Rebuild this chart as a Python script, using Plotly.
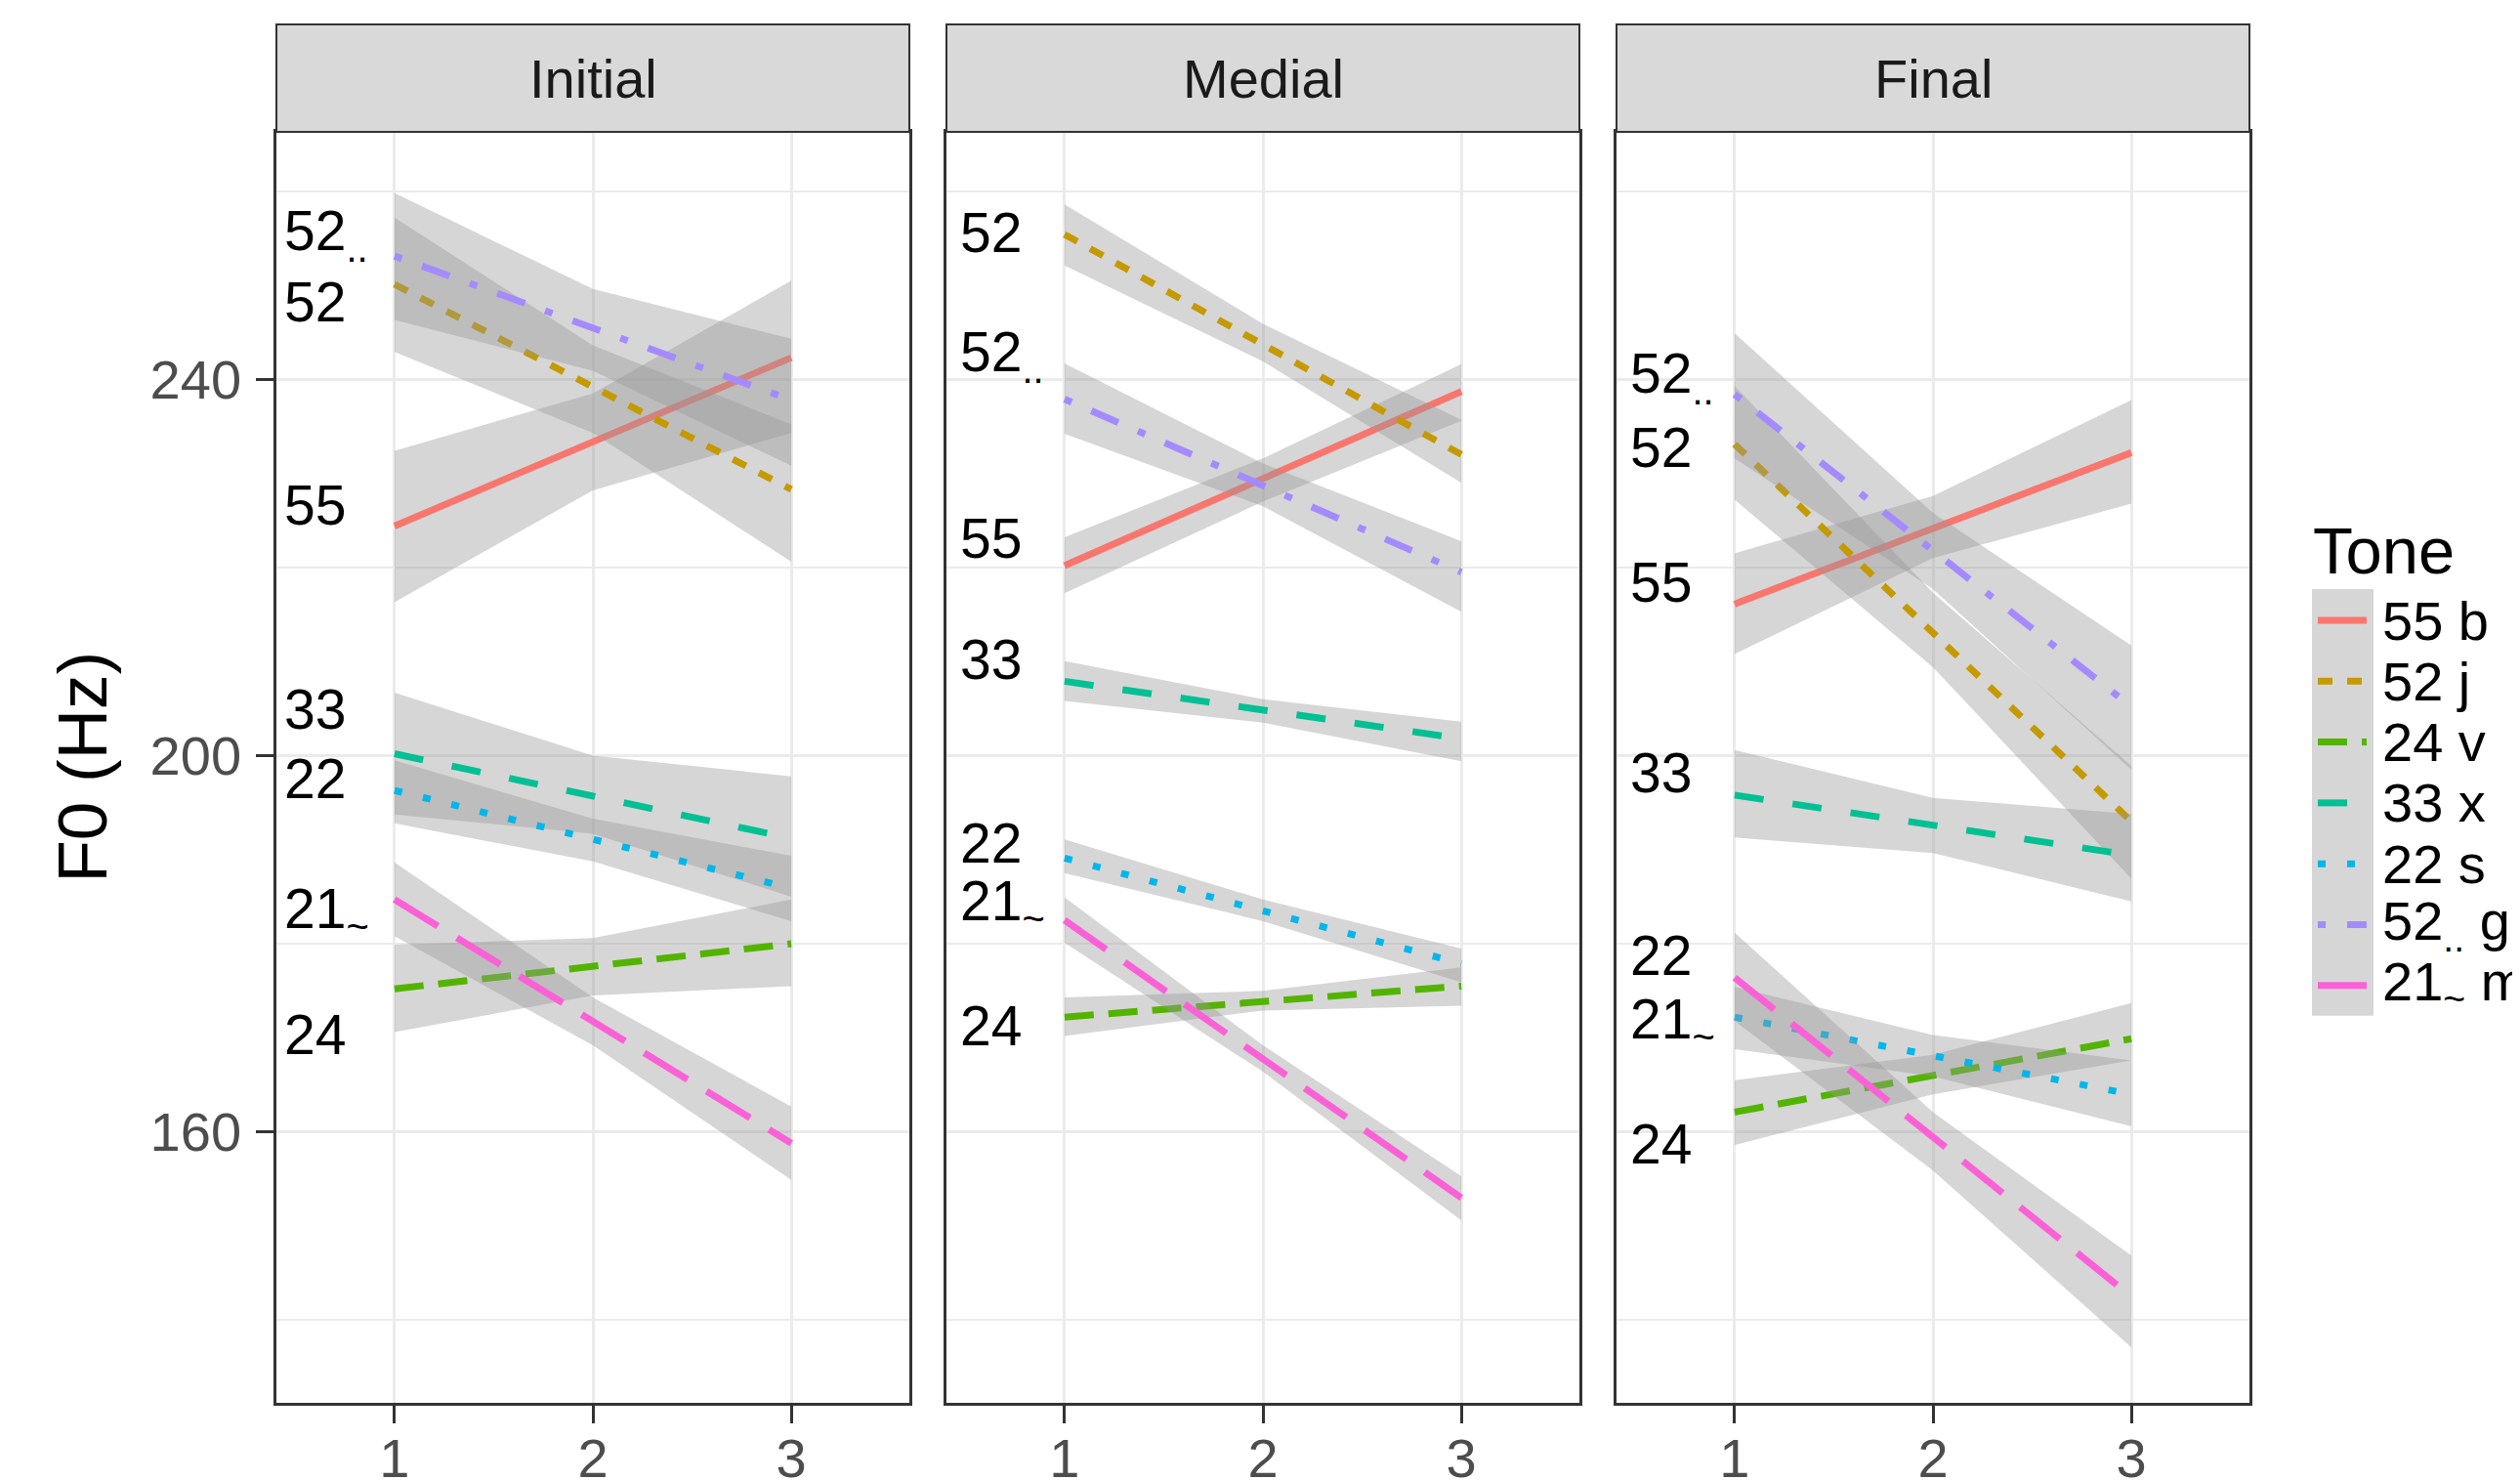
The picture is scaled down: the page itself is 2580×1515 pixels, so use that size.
import plotly.graph_objects as go

# ---------------- data ----------------
panels = ["Initial", "Medial", "Final"]
tone_codes = ["55", "52", "24", "33", "22", "52\u0324", "21\u0330"]
tone_letters = ["b", "j", "v", "x", "s", "g", "m"]
tone_colors = ["#F8766D", "#C49A00", "#53B400", "#00C094", "#00B6EB", "#A58AFF", "#FB61D7"]
tone_dashes = ["solid", "15px,15px", "30px,15px", "30px,30px", "8px,22px", "8px,22px,30px,22px", "52px,23px"]

positions = [1, 2, 3]

# fitted line at position 1 and 3, per tone (order of tone_codes)
initial_start = [224.4, 250.1, 175.2, 200.2, 196.3, 253.1, 184.7]
initial_end = [242.3, 228.3, 180.0, 191.2, 185.9, 237.8, 158.8]
initial_upper = [[232.4, 238.5, 250.5], [257.2, 243.6, 235.2], [179.9, 180.6, 184.7],
                 [206.7, 200.0, 197.8], [199.5, 193.3, 189.35], [259.8, 249.6, 244.3],
                 [188.65, 174.3, 162.7]]
initial_lower = [[216.3, 228.2, 234.3], [242.9, 234.3, 220.6], [170.6, 174.5, 175.5],
                 [193.75, 191.7, 185.0], [192.8, 188.75, 182.4], [246.3, 240.9, 230.8],
                 [180.8, 169.2, 154.9]]
initial_label_y = [226.6, 248.2, 170.4, 204.9, 197.6, 255.4, 183.3]

medial_start = [220.2, 255.4, 172.2, 207.9, 189.1, 237.9, 182.5]
medial_end = [238.7, 232.0, 175.5, 201.8, 177.9, 219.5, 153.0]
medial_upper = [[223.2, 231.6, 241.6], [258.6, 245.9, 235.7], [174.3, 175.0, 177.5],
                [210.05, 206.0, 203.6], [191.1, 184.7, 179.5], [241.7, 231.05, 222.8],
                [184.95, 169.2, 155.3]]
medial_lower = [[217.25, 227.0, 235.6], [252.1, 241.9, 229.0], [170.2, 172.9, 173.4],
                [205.8, 203.5, 199.4], [187.5, 182.4, 175.9], [234.2, 226.5, 215.3],
                [180.1, 166.4, 150.6]]
medial_label_y = [223.1, 255.6, 171.25, 210.2, 190.7, 242.5, 184.2]

final_start = [216.1, 233.1, 162.1, 195.8, 172.2, 238.4, 176.4]
final_end = [232.2, 193.0, 169.9, 189.4, 164.0, 205.2, 142.5]
final_upper = [[221.5, 227.6, 237.8], [239.3, 217.3, 198.9], [165.5, 168.2, 173.7],
               [200.6, 195.5, 193.8], [175.4, 170.3, 167.6], [244.9, 225.8, 211.7],
               [181.2, 162.1, 146.85]]
final_lower = [[210.8, 221.0, 226.8], [227.2, 209.4, 186.9], [158.6, 164.0, 167.6],
               [191.3, 189.65, 184.5], [168.8, 165.9, 160.6], [231.6, 217.7, 198.5],
               [171.8, 155.9, 137.1]]
final_label_y = [218.4, 232.8, 158.7, 198.2, 178.8, 240.2, 171.6]

y_ticks = [160, 200, 240]
y_minor = [140, 180, 220, 260]
x_ticks = [1, 2, 3]

# ---------------- styling / layout ----------------
OFF = 8                      # default page margin of the html body
W, H = 2580 - OFF, 1515 - OFF
FONT = "Liberation Sans, Arial, Helvetica, sans-serif"
panel_px = [(283, 931), (969, 1617), (1655, 2303)]
plot_top_px, plot_bot_px, strip_top_px = 135, 1436, 25
label_x = [0.435, 0.466, 0.466]
x_range = [0.405, 3.595]
y_range = [131.2, 266.3]
ribbon_fill = "rgba(153,153,153,0.4)"
LW = 7


def disp(code):
    return code.replace("\u0324", "<sub>..</sub>").replace("\u0330", "<sub>~</sub>")


def px(v):
    return (v - OFF) / W


def py(v):
    return 1 - (v - OFF) / H


panel_data = [
    (initial_start, initial_end, initial_upper, initial_lower, initial_label_y),
    (medial_start, medial_end, medial_upper, medial_lower, medial_label_y),
    (final_start, final_end, final_upper, final_lower, final_label_y),
]

fig = go.Figure()
annotations = []
shapes = []

for p, (start, end, upper, lower, lab_y) in enumerate(panel_data):
    xa = "x" if p == 0 else f"x{p + 1}"
    ya = "y" if p == 0 else f"y{p + 1}"
    for t in range(len(tone_codes)):
        fig.add_trace(go.Scatter(
            x=positions + positions[::-1],
            y=upper[t] + lower[t][::-1],
            fill="toself", fillcolor=ribbon_fill, line=dict(width=0),
            mode="lines", hoverinfo="skip", showlegend=False,
            xaxis=xa, yaxis=ya))
        fig.add_trace(go.Scatter(
            x=[positions[0], positions[-1]], y=[start[t], end[t]],
            mode="lines", line=dict(color=tone_colors[t], width=LW, dash=tone_dashes[t]),
            showlegend=False, name=f"{tone_codes[t]} {tone_letters[t]}",
            xaxis=xa, yaxis=ya))
        annotations.append(dict(
            x=label_x[p], y=lab_y[t], xref=xa, yref=ya, text=disp(tone_codes[t]),
            showarrow=False, xanchor="left", yanchor="middle",
            font=dict(family=FONT, size=57, color="black")))

    # strip
    x0, x1 = panel_px[p]
    shapes.append(dict(type="rect", xref="paper", yref="paper",
                       x0=px(x0), x1=px(x1), y0=py(plot_top_px), y1=py(strip_top_px),
                       fillcolor="#D9D9D9", line=dict(color="#333333", width=2)))
    annotations.append(dict(x=px((x0 + x1) / 2), y=py((plot_top_px + strip_top_px) / 2),
                            xref="paper", yref="paper", text=panels[p], showarrow=False,
                            xanchor="center", yanchor="middle",
                            font=dict(family=FONT, size=56, color="#1A1A1A")))

axis_common = dict(showline=True, mirror=True, linecolor="#333333", linewidth=2.5,
                   zeroline=False, showgrid=True, gridcolor="#EBEBEB", gridwidth=2.5,
                   automargin=False)

layout = dict(width=W, height=H, margin=dict(l=0, r=0, t=0, b=0, pad=0, autoexpand=False),
              plot_bgcolor="white", paper_bgcolor="white", showlegend=False,
              font=dict(family=FONT))
for p in range(3):
    x0, x1 = panel_px[p]
    xk = "xaxis" if p == 0 else f"xaxis{p + 1}"
    yk = "yaxis" if p == 0 else f"yaxis{p + 1}"
    layout[xk] = dict(domain=[px(x0), px(x1)], range=x_range, tickvals=x_ticks,
                      ticks="outside", ticklen=18, tickwidth=2.5, tickcolor="#333333",
                      tickfont=dict(family=FONT, size=56, color="#4D4D4D"),
                      ticklabelstandoff=-12,
                      anchor="y" if p == 0 else f"y{p + 1}", **axis_common)
    ycfg = dict(domain=[py(plot_bot_px), py(plot_top_px)], range=y_range, tickvals=y_ticks,
                anchor="x" if p == 0 else f"x{p + 1}",
                minor=dict(tickvals=y_minor, showgrid=True, gridcolor="#EBEBEB", gridwidth=1.5),
                **axis_common)
    if p == 0:
        ycfg.update(ticks="outside", ticklen=18, tickwidth=2.5, tickcolor="#333333",
                    tickfont=dict(family=FONT, size=56, color="#4D4D4D"), ticklabelstandoff=4)
    else:
        ycfg.update(showticklabels=False, ticks="")
    layout[yk] = ycfg

# y-axis title
annotations.append(dict(x=px(84), y=py((plot_top_px + plot_bot_px) / 2), xref="paper", yref="paper",
                        text="F0 (Hz)", textangle=-90, showarrow=False,
                        xanchor="center", yanchor="middle",
                        font=dict(family=FONT, size=71, color="black")))

# legend (drawn manually to mimic ggplot keys)
leg_key_x0, leg_key_x1 = 2367, 2430
leg_row0, leg_row_step = 635, 62.3
shapes.append(dict(type="rect", xref="paper", yref="paper",
                   x0=px(leg_key_x0), x1=px(leg_key_x1),
                   y0=py(leg_row0 + leg_row_step * 6 + 31), y1=py(leg_row0 - 32),
                   fillcolor="#D6D6D6", line=dict(width=0)))
annotations.append(dict(x=px(2366), y=py(563), xref="paper", yref="paper", text="Tone",
                        showarrow=False, xanchor="left", yanchor="middle",
                        font=dict(family=FONT, size=67, color="black")))
for t in range(len(tone_codes)):
    ry = leg_row0 + leg_row_step * t
    shapes.append(dict(type="line", xref="paper", yref="paper",
                       x0=px(2373), x1=px(2423), y0=py(ry), y1=py(ry),
                       line=dict(color=tone_colors[t], width=LW, dash=tone_dashes[t])))
    annotations.append(dict(x=px(2437), y=py(ry), xref="paper", yref="paper",
                            text=f"{disp(tone_codes[t])} {tone_letters[t]}", showarrow=False,
                            xanchor="left", yanchor="middle",
                            font=dict(family=FONT, size=56, color="black")))

layout["shapes"] = shapes
layout["annotations"] = annotations
fig.update_layout(**layout)
fig.write_html("out.html")
